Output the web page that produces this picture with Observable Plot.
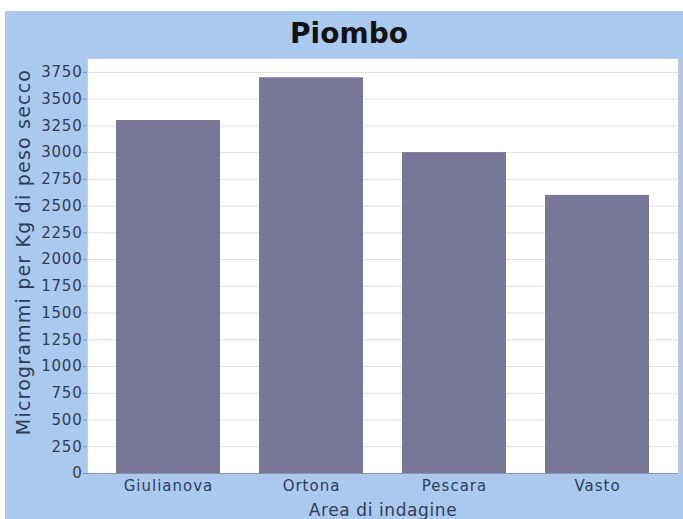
<!DOCTYPE html>
<html>
<head>
<meta charset="utf-8">
<script src="https://cdn.jsdelivr.net/npm/d3@7"></script>
<script src="https://cdn.jsdelivr.net/npm/@observablehq/plot@0.6"></script>
<style>
  html, body { margin: 0; padding: 0; background: #ffffff; }
  #card { position: absolute; left: 5px; top: 11px; width: 678px; height: 508px; background: #a9c9ee; overflow: hidden; }
  #title { height: 40px; line-height: 46px; text-align: center; padding-left: 10px; box-sizing: border-box;
           font-family: "DejaVu Sans", sans-serif; font-weight: bold; font-size: 28px; color: #111; }
  #chart svg { display: block; overflow: visible; }
  .pb g[aria-label="y-axis tick label"] text { letter-spacing: 0.8px; }
  .pb g[aria-label="x-axis tick label"] text { letter-spacing: 1px; }
  .pb g.ytitle text { letter-spacing: 1.2px; }
  .pb g.xtitle text { letter-spacing: 0.6px; }
</style>
</head>
<body>
<div id="card">
  <div id="title">Piombo</div>
  <div id="chart"></div>
</div>
<script>
const areas = ["Giulianova", "Ortona", "Pescara", "Vasto"];
const values = [3300, 3700, 3000, 2600];
const yTicks = [0, 250, 500, 750, 1000, 1250, 1500, 1750, 2000, 2250, 2500, 2750, 3000, 3250, 3500, 3750];
const xTitle = "Area di indagine";
const yTitle = "Microgrammi per Kg di peso secco";

const data = areas.map((a, i) => ({area: a, value: values[i]}));
const axisColor = "#2f3d5a";

const chart = Plot.plot({
  className: "pb",
  width: 678,
  height: 468,
  marginTop: 7,
  marginBottom: 46,
  marginLeft: 82,
  marginRight: 5,
  style: {background: "transparent", fontFamily: "DejaVu Sans, sans-serif", overflow: "visible"},
  x: {domain: areas, paddingInner: 0.27, paddingOuter: 0.195, label: null},
  y: {domain: [0, 3880], label: null},
  marks: [
    Plot.frame({fill: "#ffffff", stroke: "#c4cedc"}),
    Plot.gridY(yTicks, {stroke: "#dedede", strokeOpacity: 1}),
    Plot.barY(data, {x: "area", y: "value", fill: "#777797"}),
    Plot.ruleY([0], {stroke: "#8a94a6"}),
    Plot.axisY({ticks: yTicks, tickFormat: d => String(d), tickSize: 4, tickPadding: 1,
      fontSize: 15, fill: axisColor, stroke: "#8a94a6", label: null}),
    Plot.axisX({tickSize: 0, tickPadding: 7, fontSize: 15, fill: axisColor, label: null}),
    Plot.text([xTitle], {frameAnchor: "bottom", dy: 37, textAnchor: "middle", lineAnchor: "middle", fontSize: 17, fill: axisColor, className: "xtitle"}),
    Plot.text([yTitle], {frameAnchor: "left", dx: -64, dy: -14, rotate: -90, textAnchor: "middle", lineAnchor: "middle", fontSize: 19, fill: axisColor, className: "ytitle"})
  ]
});
document.getElementById("chart").appendChild(chart);
</script>
</body>
</html>
